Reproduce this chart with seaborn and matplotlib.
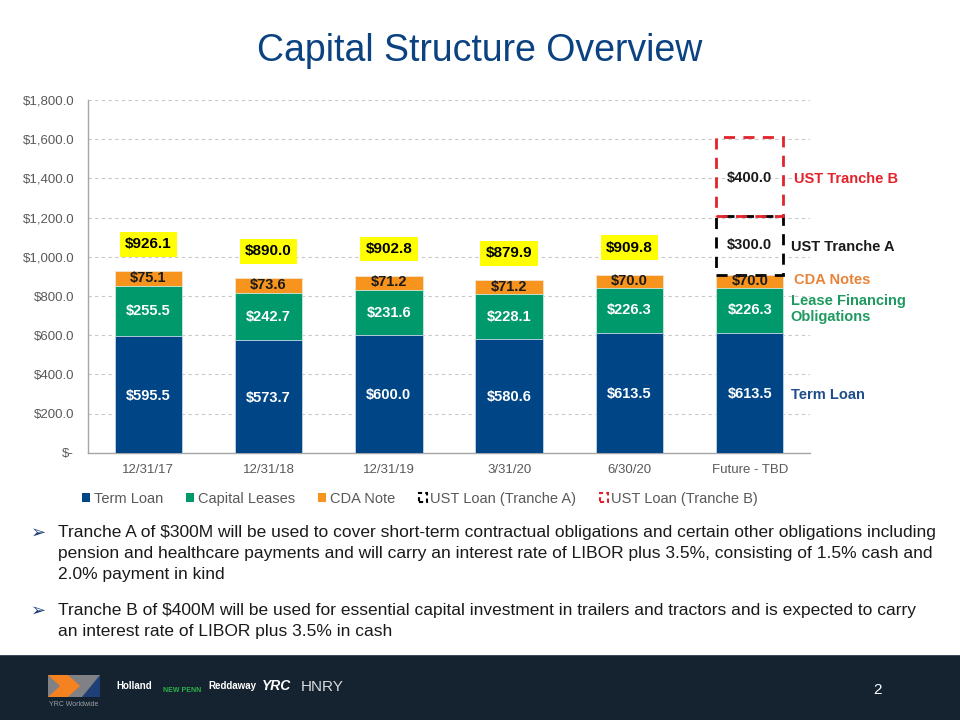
import matplotlib
matplotlib.use("Agg")
import matplotlib.pyplot as plt
from matplotlib.patches import Patch, Rectangle, Polygon
from matplotlib.ticker import FuncFormatter
import seaborn as sns
import pandas as pd

# data
periods = ["12/31/17", "12/31/18", "12/31/19", "3/31/20", "6/30/20", "Future - TBD"]
term_loan = [595.5, 573.7, 600.0, 580.6, 613.5, 613.5]
capital_leases = [255.5, 242.7, 231.6, 228.1, 226.3, 226.3]
cda_note = [75.1, 73.6, 71.2, 71.2, 70.0, 70.0]
totals = [926.1, 890.0, 902.8, 879.9, 909.8]
ust_tranche_a = 300.0
ust_tranche_b = 400.0
yticks = [0, 200, 400, 600, 800, 1000, 1200, 1400, 1600, 1800]

BLUE = "#004586"
GREEN = "#00996B"
ORANGE = "#F7941D"
RED = "#E3232B"

sns.set_style("white")
plt.rcParams["font.family"] = ["Liberation Sans", "DejaVu Sans"]
plt.rcParams["text.parse_math"] = False

df = pd.DataFrame({
    "period": periods,
    "term": term_loan,
    "leases": capital_leases,
    "cda": cda_note,
})
df["lvl2"] = df["term"] + df["leases"]
df["lvl3"] = df["lvl2"] + df["cda"]

fig = plt.figure(figsize=(9.6, 7.2), dpi=100)
ax = fig.add_axes([0.0917, 0.371, 0.752, 0.490])

bw = 0.56
# stacked bars drawn top-down so lower layers cover upper ones
sns.barplot(data=df, x="period", y="lvl3", order=periods, color=ORANGE,
            width=bw, saturation=1, ax=ax, zorder=3, edgecolor="#F4E3CF", linewidth=0.6)
sns.barplot(data=df, x="period", y="lvl2", order=periods, color=GREEN,
            width=bw, saturation=1, ax=ax, zorder=3, edgecolor="#CFEBDF", linewidth=0.6)
sns.barplot(data=df, x="period", y="term", order=periods, color=BLUE,
            width=bw, saturation=1, ax=ax, zorder=3, edgecolor="#CBD9E8", linewidth=0.6)

# future UST tranches as dashed outline boxes
fut = df[df["period"] == "Future - TBD"]
base_a = float(fut["lvl3"].iloc[0])
base_b = base_a + ust_tranche_a
ust_a = pd.DataFrame({"period": ["Future - TBD"], "v": [ust_tranche_a]})
ust_b = pd.DataFrame({"period": ["Future - TBD"], "v": [ust_tranche_b]})
sns.barplot(data=ust_a, x="period", y="v", order=periods, bottom=base_a,
            width=bw, fill=False, ax=ax, zorder=4, edgecolor="black",
            linewidth=2, linestyle=(0, (4, 3)))
sns.barplot(data=ust_b, x="period", y="v", order=periods, bottom=base_b,
            width=bw, fill=False, ax=ax, zorder=5, edgecolor=RED,
            linewidth=2, linestyle=(0, (4, 3)))

# segment labels
lab_kw = dict(ha="center", va="center", fontsize=10.5, fontweight="bold", zorder=6)
for i, row in df.iterrows():
    ax.text(i, row["term"] / 2 - 5, f"${row['term']:,.1f}", color="white", **lab_kw)
    ax.text(i, row["term"] + row["leases"] / 2, f"${row['leases']:,.1f}", color="white", **lab_kw)
    ax.text(i, row["lvl2"] + row["cda"] / 2 + 3, f"${row['cda']:,.1f}", color="#1A1A1A", **lab_kw)

for i, t in enumerate(totals):
    ax.text(i, t + 138, f"${t:,.1f}", ha="center", va="center", fontsize=11,
            fontweight="bold", color="black", zorder=6,
            bbox=dict(boxstyle="square,pad=0.35", facecolor="#FFFF00", edgecolor="none"))

fi = len(periods) - 1
ax.text(fi, base_a + ust_tranche_a / 2, f"${ust_tranche_a:,.1f}", color="#1A1A1A", **lab_kw)
ax.text(fi, base_b + ust_tranche_b / 2 - 8, f"${ust_tranche_b:,.1f}", color="#1A1A1A", **lab_kw)

# right side series names
side_kw = dict(ha="left", va="center", fontsize=10.5, fontweight="bold")
xr = fi + bw / 2 + 0.06
ax.text(xr + 0.03, base_b + ust_tranche_b / 2 - 15, "UST Tranche B", color=RED, **side_kw)
ax.text(xr, base_a + ust_tranche_a / 2 - 10, "UST Tranche A", color="#1A1A1A", **side_kw)
ax.text(xr + 0.03, base_a - 30, "CDA Notes", color="#E8843A", **side_kw)
ax.text(xr, 735, "Lease Financing\nObligations", color="#1E9A60", linespacing=1.15, **side_kw)
ax.text(xr, 295, "Term Loan", color="#1F4E8C", **side_kw)

# axes styling
ax.set_ylim(0, 1800)
ax.set_xlim(-0.5, len(periods) - 0.5)
ax.set_yticks(yticks)
ax.yaxis.set_major_formatter(FuncFormatter(lambda v, p: "$-" if v == 0 else f"${v:,.1f}"))
ax.grid(axis="y", color="#C8C8C8", linestyle=(0, (3, 3)), linewidth=0.8, zorder=0)
ax.set_axisbelow(True)
for s in ["top", "right"]:
    ax.spines[s].set_visible(False)
for s in ["left", "bottom"]:
    ax.spines[s].set_color("#A6A6A6")
    ax.spines[s].set_linewidth(1)
ax.tick_params(axis="both", colors="#595959", labelsize=9.5, length=4, width=0.8)
ax.tick_params(axis="x", length=0, pad=8)
ax.tick_params(axis="y", direction="out", pad=6)
ax.set_xlabel("")
ax.set_ylabel("")

handles = [
    Patch(facecolor=BLUE, edgecolor="none", label="Term Loan"),
    Patch(facecolor=GREEN, edgecolor="none", label="Capital Leases"),
    Patch(facecolor=ORANGE, edgecolor="none", label="CDA Note"),
    Patch(facecolor="none", edgecolor="black", linewidth=1.5, linestyle=(0, (2, 1.5)), label="UST Loan (Tranche A)"),
    Patch(facecolor="none", edgecolor=RED, linewidth=1.5, linestyle=(0, (2, 1.5)), label="UST Loan (Tranche B)"),
]
leg = ax.legend(handles=handles, loc="center", bbox_to_anchor=(0.46, -0.13), ncol=5,
                frameon=False, fontsize=10.5, handlelength=0.55, handleheight=0.55,
                handletextpad=0.25, columnspacing=1.6, labelcolor="#595959")

# title
fig.text(0.5, 0.929, "Capital Structure Overview", ha="center", va="center",
         fontsize=27, color="#0B4281")

# bullets
bullet_lines = [
    ["Tranche A of $300M will be used to cover short-term contractual obligations and certain other obligations including",
     "pension and healthcare payments and will carry an interest rate of LIBOR plus 3.5%, consisting of 1.5% cash and",
     "2.0% payment in kind"],
    ["Tranche B of $400M will be used for essential capital investment in trailers and tractors and is expected to carry",
     "an interest rate of LIBOR plus 3.5% in cash"],
]
bullet_y = [533, 611]
for y0, lines in zip(bullet_y, bullet_lines):
    fig.text(31 / 960, 1 - y0 / 720, "\u27a2", ha="left", va="center", fontsize=13,
             color="#1F3F77", family=["DejaVu Sans"])
    for k, line in enumerate(lines):
        fig.text(58 / 960, 1 - (y0 + k * 20.5) / 720, line, ha="left", va="center",
                 fontsize=12.5, color="#1A1A1A")

# footer band
fig.patches.append(Rectangle((0, 0), 1, 65 / 720, transform=fig.transFigure,
                             facecolor="#15222F", edgecolor="none", zorder=0))
fig.patches.append(Rectangle((0, 64 / 720), 1, 1.5 / 720, transform=fig.transFigure,
                             facecolor="#3A4A5A", edgecolor="none", zorder=1))
# simple logo marks
fig.patches.append(Rectangle((48 / 960, 1 - 697 / 720), 52 / 960, 22 / 720,
                             transform=fig.transFigure, facecolor="#7F8184", edgecolor="none", zorder=2))
fig.patches.append(Polygon([(48 / 960, 1 - 675 / 720), (68 / 960, 1 - 675 / 720), (80 / 960, 1 - 686 / 720),
                            (68 / 960, 1 - 697 / 720), (48 / 960, 1 - 697 / 720), (60 / 960, 1 - 686 / 720)],
                           closed=True, transform=fig.transFigure, facecolor="#F58220", edgecolor="none", zorder=3))
fig.patches.append(Polygon([(82 / 960, 1 - 697 / 720), (100 / 960, 1 - 675 / 720), (100 / 960, 1 - 697 / 720)],
                           closed=True, transform=fig.transFigure, facecolor="#1F3F77", edgecolor="none", zorder=3))
fig.text(74 / 960, 1 - 704 / 720, "YRC Worldwide", ha="center", va="center", fontsize=5, color="#9AA0A6")
fig.text(134 / 960, 1 - 686 / 720, "Holland", ha="center", va="center", fontsize=7,
         fontweight="bold", color="white")
fig.text(182 / 960, 1 - 690 / 720, "NEW PENN", ha="center", va="center", fontsize=5,
         fontweight="bold", color="#2DB34A")
fig.text(232 / 960, 1 - 686 / 720, "Reddaway", ha="center", va="center", fontsize=7,
         fontweight="bold", color="white")
fig.text(276 / 960, 1 - 686 / 720, "YRC", ha="center", va="center", fontsize=10,
         fontweight="bold", style="italic", color="white")
fig.text(322 / 960, 1 - 687 / 720, "HNRY", ha="center", va="center", fontsize=11,
         color="#D8DCE0")
fig.text(878 / 960, 1 - 690 / 720, "2", ha="center", va="center", fontsize=11, color="white")

fig.savefig("out.png", dpi=100)
